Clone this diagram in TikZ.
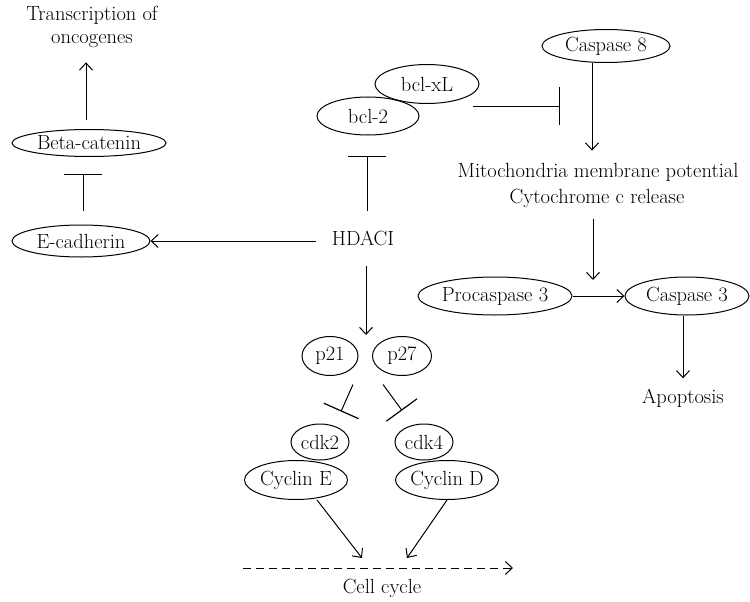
\documentclass[tikz,border=0pt]{standalone}
\usepackage{fontspec}
\usetikzlibrary{shapes.geometric,arrows.meta,calc}
\begin{document}
\begin{tikzpicture}[x=1pt,y=-1pt,
  every node/.style={font=\fontsize{20.5}{24}\selectfont},
  ell/.style={draw, ellipse, inner xsep=-6pt, inner ysep=0pt, line width=1pt},
  txt/.style={inner sep=0pt, anchor=base},
  arr/.style={line width=1pt, -{Straight Barb[length=7pt,width=13pt]}},
  inh/.style={line width=1pt, -{Bar[width=38pt,line width=1.2pt]}},
  dsh/.style={line width=1pt, dash pattern=on 8pt off 5pt, -{Straight Barb[length=7pt,width=13pt]}}]
\useasboundingbox (0,0) rectangle (750,602);
% texts
\node[txt] (trans1) at (92,21) {Transcription of};
\node[txt] (trans2) at (92,44) {oncogenes};
\node[txt] (hdaci) at (363,245) {HDACI};
\node[txt] (mito) at (598,177) {Mitochondria membrane potential};
\node[txt] (cyto) at (597,203) {Cytochrome c release};
\node[txt] (apop) at (683,403) {Apoptosis};
\node[txt] (cell) at (382,593) {Cell cycle};
% ellipses
\node[ell, minimum width=154, minimum height=27] (beta) at (89,143) {Beta-catenin};
\node[ell, minimum width=138, minimum height=32] (ecad) at (81,241) {E-cadherin};
\node[ell, minimum width=104, minimum height=39] (bclxl) at (427,84) {bcl-xL};
\node[ell, minimum width=102, minimum height=38] (bcl2) at (368,116) {bcl-2};
\node[ell, minimum width=128, minimum height=33] (casp8) at (606,46) {Caspase 8};
\node[ell, minimum width=154, minimum height=38] (proc3) at (495,296) {Procaspase 3};
\node[ell, minimum width=124, minimum height=38] (casp3) at (687,296) {Caspase 3};
\node[ell, minimum width=56, minimum height=39] (p21) at (330,356) {p21};
\node[ell, minimum width=59, minimum height=39] (p27) at (402,356) {p27};
\node[ell, minimum width=58, minimum height=36] (cdk2) at (320,442) {cdk2};
\node[ell, minimum width=58, minimum height=36] (cdk4) at (424,442) {cdk4};
\node[ell, minimum width=103, minimum height=39] (cycE) at (296,480) {Cyclin E};
\node[ell, minimum width=103, minimum height=39] (cycD) at (447,480) {Cyclin D};
% free ends
\coordinate (blk) at (560,106);
\coordinate (act) at (593,296);
\coordinate (pmid) at ($(p21.north)!0.5!(p27.north)$);
\coordinate (ccL) at (243,568);
\coordinate (ccR) at (513,568);
\coordinate (ceend) at (362,558);
\coordinate (cdend) at (407,558);
% connectors
\draw[arr, shorten <=9pt, shorten >=14pt] ([xshift=-3pt]beta.north) -- ([xshift=-3pt]beta.north |- trans2.south);
\draw[inh, shorten <=14pt, shorten >=16.5pt] ([xshift=2pt]ecad.north) -- ([xshift=2pt]ecad.north |- beta.south);
\draw[arr, shorten <=15.5pt] (hdaci.west |- ecad.east) -- (ecad.east);
\draw[inh, shorten <=19pt, shorten >=20pt] ([xshift=-1pt]bcl2.south |- hdaci.north) -- ([xshift=-1pt]bcl2.south);
\draw[inh] ([shift={(-7,22)}]bclxl.east) -- (blk);
\draw[arr, shorten >=12pt] ([xshift=-14pt]casp8.south) -- ([xshift=-14pt]casp8.south |- mito.north);
\draw[arr, shorten <=11.5pt, shorten >=16pt] (cyto.south -| act) -- (act);
\draw[arr] (proc3.east) -- (casp3.west);
\draw[arr, shorten >=10pt] (apop.north |- casp3.south) -- (apop.north);
\draw[arr, shorten <=20pt, shorten >=1pt] (hdaci.south -| pmid) -- (pmid);
\draw[inh] ([shift={(23,8.5)}]p21.south) -- ([shift={(21,-12)}]cdk2.north);
\draw[inh] ([shift={(-19,8.5)}]p27.south) -- ([shift={(-22,-13)}]cdk4.north);
\draw[arr] ([xshift=21pt]cycE.south) -- (ceend);
\draw[arr] (cycD.south) -- (cdend);
\draw[dsh] (ccL) -- (ccR);
\end{tikzpicture}
\end{document}
